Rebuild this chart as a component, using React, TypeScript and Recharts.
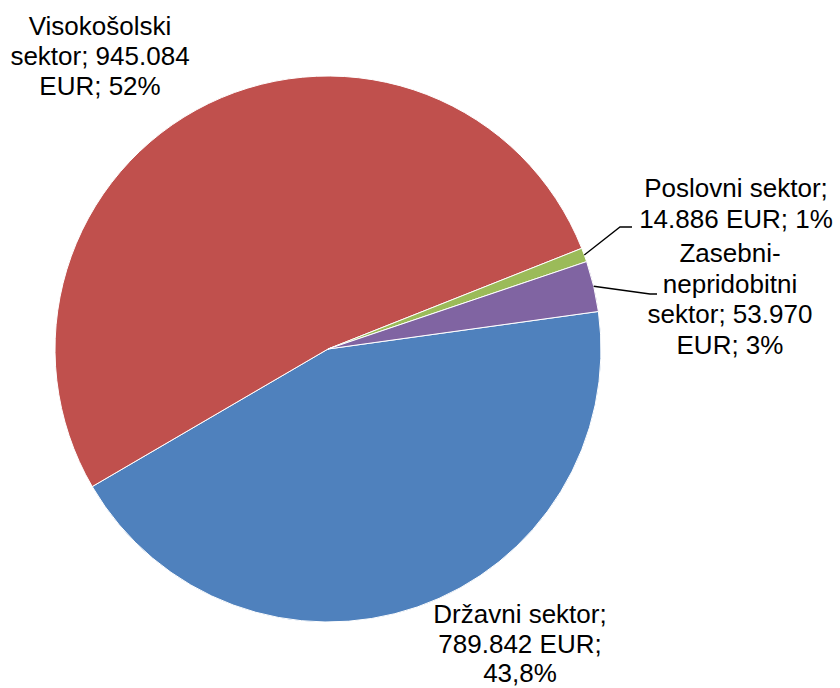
import { PieChart, Pie, Cell } from 'recharts'

const sectors = ['Državni sektor', 'Visokošolski sektor', 'Poslovni sektor', 'Zasebni-nepridobitni sektor']
const amounts = [789842, 945084, 14886, 53970]
const labelTexts = [
    ['Državni sektor;', '789.842 EUR;', '43,8%'],
    ['Visokošolski', 'sektor; 945.084', 'EUR; 52%'],
    ['Poslovni sektor;', '14.886 EUR; 1%'],
    ['Zasebni-', 'nepridobitni', 'sektor; 53.970', 'EUR; 3%'],
]
const colors = ['#4F81BD', '#C0504D', '#9BBB59', '#8064A2']

const data = sectors.map((name, i) => ({ name, value: amounts[i] }))

// label placement, offsets from the pie centre
const labelPlace = [
    { dx: 192, dy: 274, lineH: 29.5 },
    { dx: -228, dy: -314, lineH: 30 },
    { dx: 408, dy: -152, lineH: 30.5, leader: [[292, -122], [304, -122]] },
    { dx: 402, dy: -87, lineH: 30.5, leader: [[322, -55], [329, -55]] },
]

const RADIAN = Math.PI / 180

function renderLabel(props: any) {
    const { cx, cy, midAngle, outerRadius, index } = props
    const place = labelPlace[index]
    const lines = labelTexts[index]
    let leader = null
    if (place.leader) {
        const sx = cx + outerRadius * Math.cos(-midAngle * RADIAN)
        const sy = cy + outerRadius * Math.sin(-midAngle * RADIAN)
        const pts = [[sx, sy], ...place.leader.map(([x, y]) => [cx + x, cy + y])]
        leader = (
            <polyline
                points={pts.map((p) => p.join(',')).join(' ')}
                fill="none"
                stroke="#000"
                strokeWidth={1.3}
            />
        )
    }
    return (
        <g key={`lbl-${index}`}>
            {leader}
            <text
                x={cx + place.dx}
                y={cy + place.dy}
                textAnchor="middle"
                fill="#000"
                fontSize={26}
                fontFamily="'Liberation Sans', Arial, sans-serif"
            >
                {lines.map((t, i) => (
                    <tspan key={i} x={cx + place.dx} dy={i === 0 ? 0 : place.lineH}>
                        {t}
                    </tspan>
                ))}
            </text>
        </g>
    )
}

export default function App() {
    return (
        <div style={{ position: 'absolute', left: 0, top: 0, width: 840, height: 688, background: '#fff' }}>
            <PieChart width={840} height={688} margin={{ top: 0, right: 0, bottom: 0, left: 0 }}>
                <Pie
                    data={data}
                    dataKey="value"
                    nameKey="name"
                    cx={328}
                    cy={349}
                    outerRadius={273}
                    startAngle={7.9}
                    endAngle={-352.1}
                    stroke="#fff"
                    strokeWidth={1}
                    label={renderLabel}
                    labelLine={false}
                    isAnimationActive={false}
                >
                    {data.map((d, i) => (
                        <Cell key={d.name} fill={colors[i]} />
                    ))}
                </Pie>
            </PieChart>
        </div>
    )
}
